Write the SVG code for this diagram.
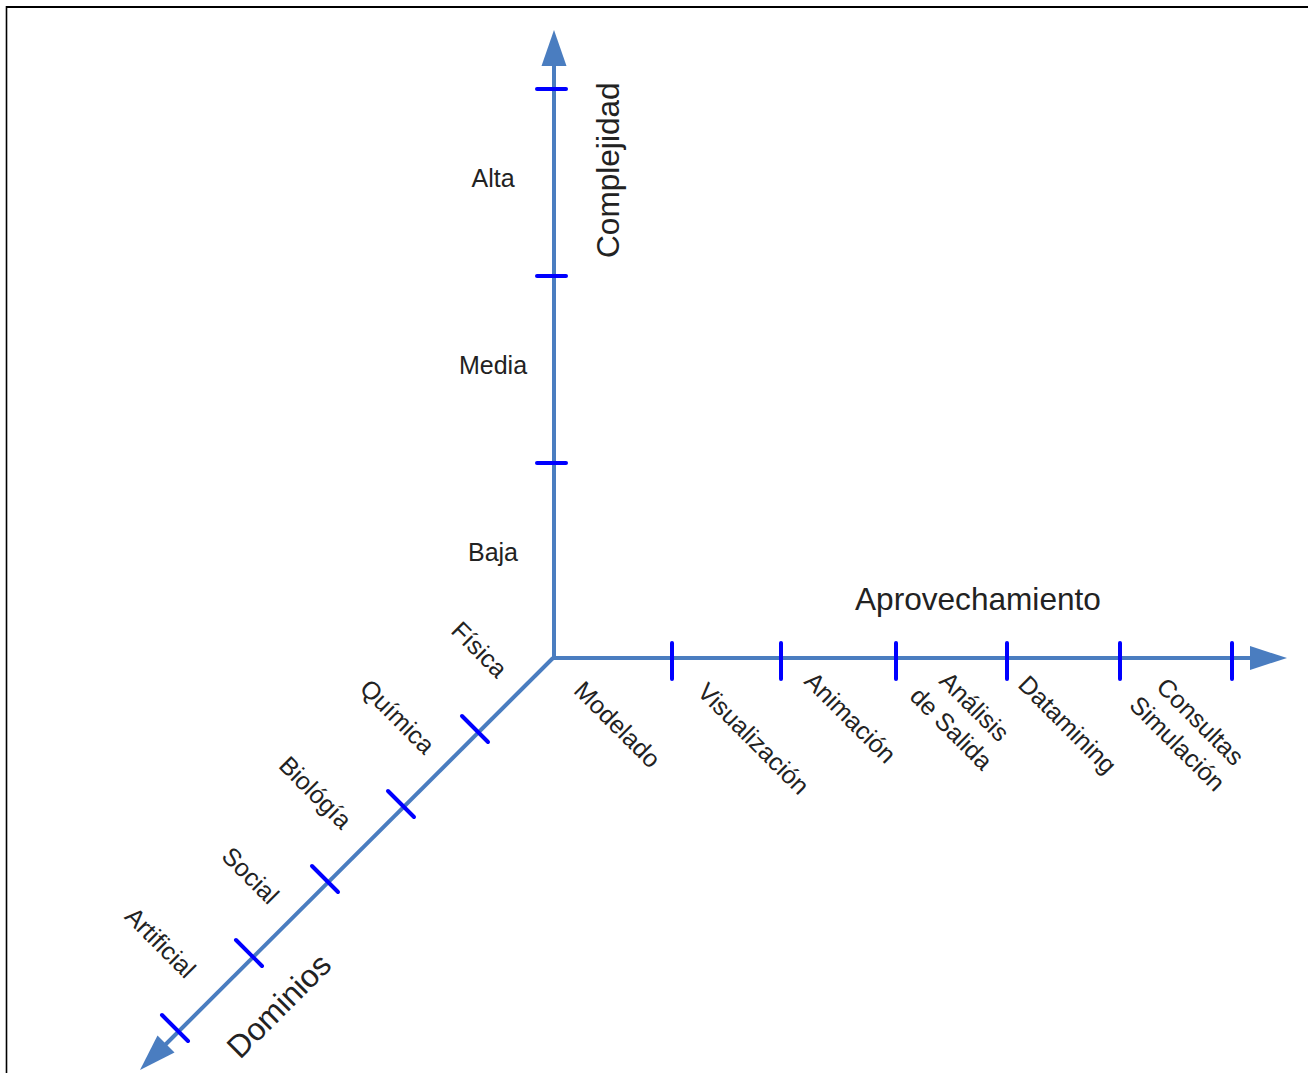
<svg xmlns="http://www.w3.org/2000/svg" width="1308" height="1073" viewBox="0 0 1308 1073">
  <style>
    .axis { stroke: #4a7dc0; stroke-width: 4; fill: none; }
    .head { fill: #4a7dc0; stroke: none; }
    .tick { stroke: #0000ff; stroke-width: 4; stroke-linecap: round; fill: none; }
    .lbl { font-family: "Liberation Sans", Arial, sans-serif; font-size: 25px; fill: #222; }
    .title { font-family: "Liberation Sans", Arial, sans-serif; font-size: 31.6px; fill: #222; }
    .frame { stroke: #000; fill: none; }
  </style>

  <rect x="0" y="0" width="1308" height="1073" fill="#fff"/>

  <!-- frame (open on right and bottom) -->
  <line class="frame" x1="6" y1="7" x2="1308" y2="7" stroke-width="2.2"/>
  <line class="frame" x1="6.5" y1="6" x2="6.5" y2="1073" stroke-width="1.6"/>

  <!-- axes -->
  <g id="connectors">
    <line class="axis" x1="554" y1="660" x2="554" y2="62"/>
    <polygon class="head" points="554,30 566.5,66 541.5,66"/>
    <line class="axis" x1="552" y1="658" x2="1254" y2="658"/>
    <polygon class="head" points="1287,658 1250,646 1250,670"/>
    <line class="axis" x1="553" y1="658" x2="163" y2="1047"/>
    <polygon class="head" points="140,1070 174.5,1052.5 157.5,1035.5"/>
  </g>

  <!-- ticks on the vertical axis -->
  <g id="ticks-complejidad">
    <line class="tick" x1="537" y1="89" x2="566" y2="89"/>
    <line class="tick" x1="537" y1="276" x2="566" y2="276"/>
    <line class="tick" x1="537" y1="463" x2="566" y2="463"/>
  </g>

  <!-- ticks on the horizontal axis -->
  <g id="ticks-aprovechamiento">
    <line class="tick" x1="672" y1="643" x2="672" y2="679"/>
    <line class="tick" x1="781" y1="643" x2="781" y2="679"/>
    <line class="tick" x1="896" y1="643" x2="896" y2="679"/>
    <line class="tick" x1="1007" y1="643" x2="1007" y2="679"/>
    <line class="tick" x1="1120" y1="643" x2="1120" y2="679"/>
    <line class="tick" x1="1232" y1="643" x2="1232" y2="679"/>
  </g>

  <!-- ticks on the diagonal axis -->
  <g id="ticks-dominios">
    <line class="tick" x1="462" y1="716" x2="488" y2="742"/>
    <line class="tick" x1="388" y1="791" x2="414" y2="817"/>
    <line class="tick" x1="312" y1="866" x2="338" y2="892"/>
    <line class="tick" x1="236" y1="940" x2="262" y2="966"/>
    <line class="tick" x1="162" y1="1015" x2="188" y2="1041"/>
  </g>

  <!-- axis titles -->
  <g id="title-complejidad">
    <text class="title" transform="translate(619,258) rotate(-90)">Complejidad</text>
  </g>
  <g id="title-aprovechamiento">
    <text class="title" x="855" y="610">Aprovechamiento</text>
  </g>
  <g id="title-dominios">
    <text class="title" transform="translate(240,1060) rotate(-45)">Dominios</text>
  </g>

  <!-- levels of complexity -->
  <g id="nivel-alta"><text class="lbl" x="493" y="187" text-anchor="middle">Alta</text></g>
  <g id="nivel-media"><text class="lbl" x="493" y="374" text-anchor="middle">Media</text></g>
  <g id="nivel-baja"><text class="lbl" x="493" y="561" text-anchor="middle">Baja</text></g>

  <!-- domains -->
  <g id="dom-fisica"><text class="lbl" text-anchor="middle" transform="translate(479,650) rotate(45)" y="8">Física</text></g>
  <g id="dom-quimica"><text class="lbl" text-anchor="middle" transform="translate(397,717) rotate(45)" y="8">Química</text></g>
  <g id="dom-biologia"><text class="lbl" text-anchor="middle" transform="translate(315,793) rotate(45)" y="8">Biológía</text></g>
  <g id="dom-social"><text class="lbl" text-anchor="middle" transform="translate(250,876) rotate(45)" y="8">Social</text></g>
  <g id="dom-artificial"><text class="lbl" text-anchor="middle" transform="translate(160,943) rotate(45)" y="8">Artificial</text></g>

  <!-- uses -->
  <g id="uso-modelado"><text class="lbl" text-anchor="middle" transform="translate(617,725) rotate(45)" y="8">Modelado</text></g>
  <g id="uso-visualizacion"><text class="lbl" text-anchor="middle" transform="translate(753,739) rotate(45)" y="8">Visualización</text></g>
  <g id="uso-animacion"><text class="lbl" text-anchor="middle" transform="translate(850,718) rotate(45)" y="8">Animación</text></g>
  <g id="uso-analisis">
    <text class="lbl" text-anchor="middle" transform="translate(974,707) rotate(45)" y="8">Análisis</text>
    <text class="lbl" text-anchor="middle" transform="translate(951,729) rotate(45)" y="8">de Salida</text>
  </g>
  <g id="uso-datamining"><text class="lbl" text-anchor="middle" transform="translate(1067,725) rotate(45)" y="8">Datamining</text></g>
  <g id="uso-consultas">
    <text class="lbl" text-anchor="middle" transform="translate(1200,722) rotate(45)" y="8">Consultas</text>
    <text class="lbl" text-anchor="middle" transform="translate(1177,744) rotate(45)" y="8">Simulación</text>
  </g>
</svg>
